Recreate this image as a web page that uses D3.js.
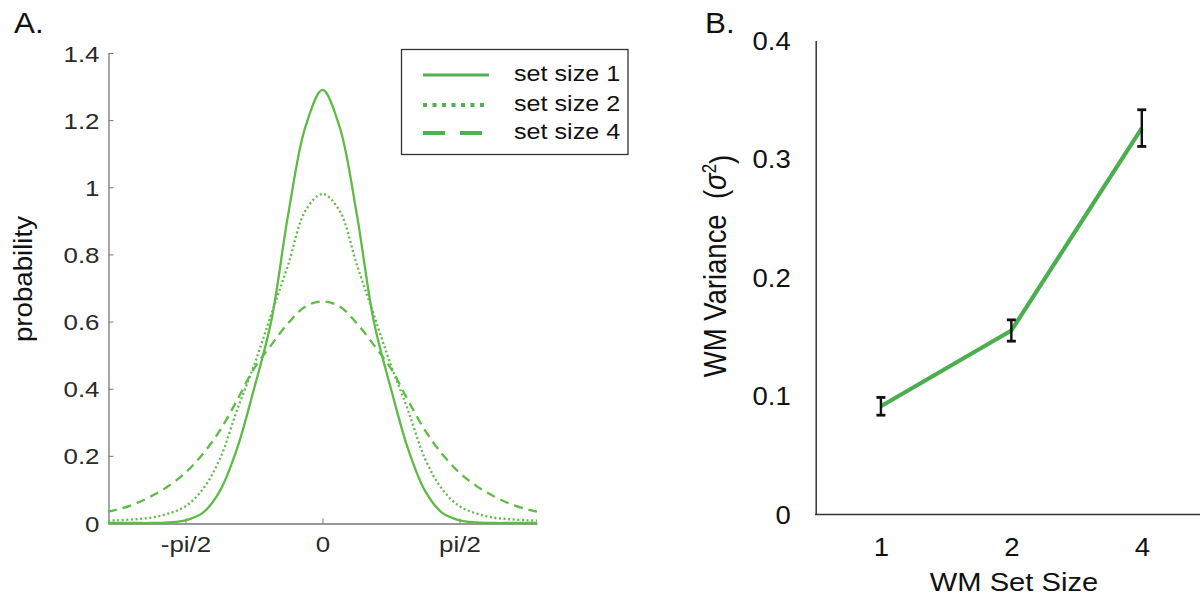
<!DOCTYPE html>
<html>
<head>
<meta charset="utf-8">
<script src="https://cdn.jsdelivr.net/npm/d3@7"></script>
<style>
  body { margin: 0; background: #fff; }
  svg { font-family: "Liberation Sans", Arial, sans-serif; }
</style>
</head>
<body>
<div id="chart"></div>
<script>
// ---- panel A data: probability vs. angle ----
var angles = [-2.46, -2.356, -2.160, -1.963, -1.767, -1.571, -1.374, -1.178, -0.982, -0.785, -0.589, -0.393, -0.196,
    0, 0.196, 0.393, 0.589, 0.785, 0.982, 1.178, 1.374, 1.571, 1.767, 1.963, 2.160, 2.356, 2.46];
var setSize1 = [0, 0, 0, 0, 0.002, 0.008, 0.03, 0.095, 0.22, 0.40, 0.60, 0.92, 1.18,
    1.29, 1.18, 0.92, 0.60, 0.40, 0.22, 0.095, 0.03, 0.008, 0.002, 0, 0, 0, 0];
var setSize2 = [0.007, 0.008, 0.011, 0.016, 0.028, 0.05, 0.10, 0.19, 0.335, 0.47, 0.62, 0.77, 0.93,
    0.98, 0.93, 0.77, 0.62, 0.47, 0.335, 0.19, 0.10, 0.05, 0.028, 0.016, 0.011, 0.008, 0.007];
var setSize4 = [0.034, 0.04, 0.056, 0.08, 0.11, 0.15, 0.205, 0.275, 0.365, 0.46, 0.53, 0.595, 0.645,
    0.66, 0.645, 0.595, 0.53, 0.46, 0.365, 0.275, 0.205, 0.15, 0.11, 0.08, 0.056, 0.04, 0.034];
var seriesNames = ["set size 1", "set size 2", "set size 4"];
var xTickValuesA = [-Math.PI / 2, 0, Math.PI / 2];
var xTickLabelsA = ["-pi/2", "0", "pi/2"];
var yTicksA = [0, 0.2, 0.4, 0.6, 0.8, 1, 1.2, 1.4];

// ---- panel B data: WM variance by set size ----
var setSizes = ["1", "2", "4"];
var variance = [0.091, 0.155, 0.326];
var varianceErr = [0.0075, 0.009, 0.0155];
var yTicksB = [0, 0.1, 0.2, 0.3, 0.4];

var width = 1200, height = 598;

var svg = d3.select("#chart").append("svg")
    .attr("width", width)
    .attr("height", height);

// the source figure is a bit stretched sideways, so widen the text to match
function stretch(sel, k) {
    sel.each(function () {
        var w = this.getComputedTextLength();
        d3.select(this).attr("textLength", w * k).attr("lengthAdjust", "spacingAndGlyphs");
    });
}

//////////////////////////// panel A ////////////////////////////
var xA = d3.scaleLinear().domain([-2.46, 2.46]).range([108, 537]);
var yA = d3.scaleLinear().domain([0, 1.4]).range([523, 53]);

var gA = svg.append("g");

var yAxisA = gA.append("g")
    .attr("transform", "translate(" + 108.5 + ",0)")
    .call(d3.axisLeft(yA).tickValues(yTicksA).tickSizeInner(-5).tickSizeOuter(0).tickPadding(9)
        .tickFormat(function (d) { return d3.format("~g")(d); }));
yAxisA.select(".domain").attr("stroke", "#777").attr("stroke-width", 1.3);
yAxisA.selectAll(".tick line").attr("stroke", "#777");
yAxisA.selectAll(".tick text").attr("fill", "#2a2a2a").style("font-size", "22.5px").attr("dy", "0.36em");
stretch(yAxisA.selectAll(".tick text"), 1.15);

var xAxisA = gA.append("g")
    .attr("transform", "translate(0," + 523.5 + ")")
    .call(d3.axisBottom(xA).tickValues(xTickValuesA).tickSizeInner(-5).tickSizeOuter(0).tickPadding(13)
        .tickFormat(function (d, i) { return xTickLabelsA[i]; }));
xAxisA.select(".domain").attr("stroke", "#777").attr("stroke-width", 1.3);
xAxisA.selectAll(".tick line").attr("stroke", "#777");
xAxisA.selectAll(".tick text").attr("fill", "#2a2a2a").style("font-size", "22.5px");
stretch(xAxisA.selectAll(".tick text"), 1.15);

var lineA = d3.line()
    .x(function (d, i) { return xA(angles[i]); })
    .y(function (d) { return yA(Math.max(0, d)); })
    .curve(d3.curveCatmullRom.alpha(0.5));

var curveColor = "#5dbb46";
var dashes = [null, "2,2.6", "9,6"];
var curves = [setSize1, setSize2, setSize4];

gA.selectAll(".curve")
    .data(curves)
    .enter().append("path")
    .attr("class", "curve")
    .attr("d", lineA)
    .attr("fill", "none")
    .attr("stroke", curveColor)
    .attr("stroke-width", 2.3)
    .attr("stroke-dasharray", function (d, i) { return dashes[i]; });

// legend
var legend = gA.append("g");
legend.append("rect")
    .attr("x", 401.5).attr("y", 49.5)
    .attr("width", 226.5).attr("height", 105)
    .attr("fill", "#fff")
    .attr("stroke", "#333")
    .attr("stroke-width", 1.3);

var legendDashes = [null, "4,5.5", "22,15"];
var legendRows = legend.selectAll(".row")
    .data(seriesNames)
    .enter().append("g")
    .attr("class", "row")
    .attr("transform", function (d, i) { return "translate(0," + [75, 105, 133][i] + ")"; });

legendRows.append("line")
    .attr("x1", 423).attr("x2", 489)
    .attr("stroke", "#4fb152")
    .attr("stroke-width", function (d, i) { return i === 0 ? 3 : 4; })
    .attr("stroke-dasharray", function (d, i) { return legendDashes[i]; });

legendRows.append("text")
    .attr("x", 514).attr("y", 6)
    .style("font-size", "21.5px")
    .attr("fill", "#111")
    .text(function (d) { return d; });
stretch(legendRows.selectAll("text"), 1.17);

gA.append("text")
    .attr("transform", "translate(32,279) rotate(-90)")
    .attr("text-anchor", "middle")
    .style("font-size", "25px")
    .attr("fill", "#111")
    .attr("textLength", 126)
    .attr("lengthAdjust", "spacingAndGlyphs")
    .text("probability");

var labA = gA.append("text")
    .attr("x", 14).attr("y", 33)
    .style("font-size", "29px")
    .attr("fill", "#111")
    .text("A.");
stretch(labA, 1.08);

//////////////////////////// panel B ////////////////////////////
var xB = d3.scalePoint().domain(setSizes).range([815.7, 1207]).padding(0.5);
var yB = d3.scaleLinear().domain([0, 0.4]).range([514, 40.5]);

var gB = svg.append("g");

var yAxisB = gB.append("g")
    .attr("transform", "translate(" + 815.7 + ",0)")
    .call(d3.axisLeft(yB).tickValues(yTicksB).tickSize(0).tickPadding(25)
        .tickFormat(function (d) { return d3.format("~g")(d); }));
yAxisB.select(".domain").attr("stroke", "#333").attr("stroke-width", 1.5);
yAxisB.selectAll(".tick text").attr("fill", "#111").style("font-size", "25px").attr("dy", "0.36em");
stretch(yAxisB.selectAll(".tick text"), 1.1);

var xAxisB = gB.append("g")
    .attr("transform", "translate(0," + 514 + ")")
    .call(d3.axisBottom(xB).tickSize(0).tickPadding(24));
xAxisB.select(".domain").remove();
xAxisB.selectAll(".tick text").attr("fill", "#111").style("font-size", "25px");
stretch(xAxisB.selectAll(".tick text"), 1.1);

gB.append("line")
    .attr("x1", 815).attr("x2", width)
    .attr("y1", 514.5).attr("y2", 514.5)
    .attr("stroke", "#333")
    .attr("stroke-width", 1.5);

var lineB = d3.line()
    .x(function (d, i) { return xB(setSizes[i]); })
    .y(function (d) { return yB(d); });

gB.append("path")
    .datum(variance)
    .attr("d", lineB)
    .attr("fill", "none")
    .attr("stroke", "#4cae4f")
    .attr("stroke-width", 4.2);

var errBars = gB.selectAll(".err")
    .data(variance)
    .enter().append("g")
    .attr("class", "err")
    .attr("stroke", "#111");

errBars.append("line")
    .attr("stroke-width", 2.4)
    .attr("x1", function (d, i) { return xB(setSizes[i]); })
    .attr("x2", function (d, i) { return xB(setSizes[i]); })
    .attr("y1", function (d, i) { return yB(d - varianceErr[i]); })
    .attr("y2", function (d, i) { return yB(d + varianceErr[i]); });
[-1, 1].forEach(function (s) {
    errBars.append("line")
        .attr("stroke-width", 2.8)
        .attr("x1", function (d, i) { return xB(setSizes[i]) - 4.5; })
        .attr("x2", function (d, i) { return xB(setSizes[i]) + 4.5; })
        .attr("y1", function (d, i) { return yB(d + s * varianceErr[i]); })
        .attr("y2", function (d, i) { return yB(d + s * varianceErr[i]); });
});

var xLabB = gB.append("text")
    .attr("x", 1014).attr("y", 591)
    .attr("text-anchor", "middle")
    .style("font-size", "26px")
    .attr("fill", "#111")
    .text("WM Set Size");
stretch(xLabB, 1.12);

var yLabB = gB.append("text")
    .attr("transform", "translate(726,266) scale(1.15,1) rotate(-90)")
    .attr("text-anchor", "middle")
    .style("font-size", "27.5px")
    .attr("fill", "#111");
yLabB.append("tspan").text("WM Variance\u00a0\u00a0(");
yLabB.append("tspan").style("font-style", "italic").text("\u03c3");
yLabB.append("tspan").attr("dy", "-0.5em").style("font-size", "17px").text("2");
yLabB.append("tspan").attr("dy", "0.5em").text(")");

var labB = gB.append("text")
    .attr("x", 705).attr("y", 33)
    .style("font-size", "29px")
    .attr("fill", "#111")
    .text("B.");
stretch(labB, 1.08);
</script>
</body>
</html>
